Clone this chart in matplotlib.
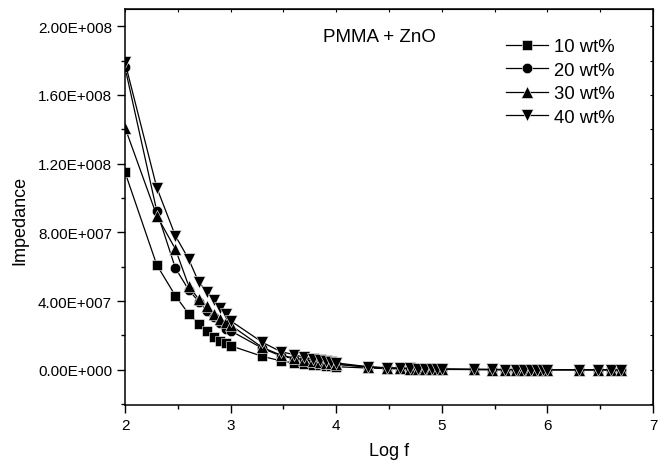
import numpy as np
import matplotlib
matplotlib.use("Agg")
import matplotlib.pyplot as plt
from matplotlib.ticker import MultipleLocator, FuncFormatter

plt.rcParams['font.family'] = ['Liberation Sans', 'DejaVu Sans']

# Frequencies (Hz); the x axis shows log10(f)
freq = [100, 200, 300, 400, 500, 600, 700, 800, 900,
        1000, 2000, 3000, 4000, 5000, 6000, 7000, 8000, 9000,
        10000, 20000, 30000, 40000, 50000, 60000, 70000, 80000, 90000,
        100000, 200000, 300000, 400000, 500000, 600000, 700000, 800000, 900000,
        1000000, 2000000, 3000000, 4000000, 5000000]

z10 = [1.15e8, 6.10e7, 4.31e7, 3.26e7, 2.68e7, 2.25e7, 1.92e7, 1.69e7, 1.56e7,
       1.40e7, 7.8e6, 5.2e6, 4.0e6, 3.3e6, 2.8e6, 2.5e6, 2.2e6, 2.0e6,
       1.8e6, 1.0e6, 7.0e5, 5.0e5, 4.0e5, 3.5e5, 3.0e5, 2.6e5, 2.3e5,
       2.0e5, 1.2e5, 9.0e4, 7.0e4, 6.0e4, 5.0e4, 4.5e4, 4.0e4, 3.5e4,
       3.0e4, 2.0e4, 1.5e4, 1.2e4, 1.0e4]
z20 = [1.76e8, 9.24e7, 5.92e7, 4.66e7, 3.96e7, 3.42e7, 3.05e7, 2.70e7, 2.37e7,
       2.27e7, 1.25e7, 8.0e6, 6.5e6, 5.5e6, 4.7e6, 4.2e6, 3.8e6, 3.5e6,
       3.2e6, 1.5e6, 1.0e6, 8.0e5, 6.5e5, 5.5e5, 4.8e5, 4.2e5, 3.8e5,
       3.4e5, 2.0e5, 1.5e5, 1.2e5, 1.0e5, 8.5e4, 7.5e4, 6.5e4, 6.0e4,
       5.5e4, 3.5e4, 2.5e4, 2.0e4, 1.7e4]
z30 = [1.41e8, 8.97e7, 7.03e7, 4.90e7, 4.10e7, 3.73e7, 3.24e7, 2.95e7, 2.76e7,
       2.60e7, 1.30e7, 8.5e6, 6.8e6, 5.8e6, 5.0e6, 4.5e6, 4.0e6, 3.7e6,
       3.4e6, 1.6e6, 1.1e6, 8.5e5, 7.0e5, 6.0e5, 5.2e5, 4.5e5, 4.0e5,
       3.6e5, 2.1e5, 1.6e5, 1.3e5, 1.1e5, 9.0e4, 8.0e4, 7.0e4, 6.5e4,
       6.0e4, 3.8e4, 2.7e4, 2.2e4, 1.8e4]
z40 = [1.79e8, 1.06e8, 7.80e7, 6.45e7, 5.09e7, 4.54e7, 4.06e7, 3.57e7, 3.24e7,
       2.85e7, 1.60e7, 1.05e7, 8.8e6, 7.2e6, 6.2e6, 5.5e6, 5.0e6, 4.5e6,
       4.0e6, 1.8e6, 1.2e6, 9.5e5, 7.8e5, 6.6e5, 5.7e5, 5.0e5, 4.4e5,
       4.0e5, 2.3e5, 1.7e5, 1.4e5, 1.2e5, 1.0e5, 8.8e4, 7.8e4, 7.0e4,
       6.5e4, 4.0e4, 3.0e4, 2.4e4, 2.0e4]

labels = ['10 wt%', '20 wt%', '30 wt%', '40 wt%']
markers = ['s', 'o', '^', 'v']
sizes = [6.5, 7.5, 8, 8]

logf = np.log10(freq)

fig = plt.figure(figsize=(6.58, 4.64), dpi=100)
ax = fig.add_axes([125/658, 1 - 406/464, (653-125)/658, (406-10)/464])

for z, lab, m, s in zip([z10, z20, z30, z40], labels, markers, sizes):
    ax.plot(logf, z, color='black', lw=0.9, marker=m, ms=s,
            markerfacecolor='black', markeredgecolor='white', markeredgewidth=0.4,
            label=lab)

ax.set_xlim(2, 7)
ax.set_ylim(-2.05e7, 2.1e8)
ax.xaxis.set_major_locator(MultipleLocator(1))
ax.xaxis.set_minor_locator(MultipleLocator(0.5))
ax.yaxis.set_major_locator(MultipleLocator(4e7))
ax.yaxis.set_minor_locator(MultipleLocator(2e7))

def yfmt(v, pos):
    if abs(v) < 1:
        return '0.00E+000'
    e = int(np.floor(np.log10(abs(v))))
    mant = v / 10**e
    return f'{mant:.2f}E+{e:03d}'

ax.yaxis.set_major_formatter(FuncFormatter(yfmt))
ax.xaxis.set_major_formatter(FuncFormatter(lambda v, p: f'{int(round(v))}'))

ax.tick_params(axis='both', which='major', direction='out', length=5.8, width=1,
               labelsize=11, pad=3.5)
ax.tick_params(axis='both', which='minor', direction='out', length=3, width=1)
for sp in ax.spines.values():
    sp.set_linewidth(1.1)

# Top and right ticks (small, inward)
axt = ax.secondary_xaxis('top')
axt.xaxis.set_major_locator(MultipleLocator(0.5))
axt.tick_params(direction='in', length=2, labeltop=False)
axt.set_xticklabels([])
axr = ax.secondary_yaxis('right')
axr.yaxis.set_major_locator(MultipleLocator(2e7))
axr.tick_params(direction='in', length=2, labelright=False)
axr.set_yticklabels([])

ax.set_xlabel('Log f', fontsize=13, labelpad=7)
ax.set_ylabel('Impedance', fontsize=13)
ax.yaxis.set_label_coords((28 - 125) / (653 - 125), (406 - 220) / (406 - 10))

ax.text(379/658, 1 - 38/464, 'PMMA + ZnO', transform=fig.transFigure,
        ha='center', va='center', fontsize=13.5)

leg = ax.legend(loc='upper left', bbox_to_anchor=(506/658, 1 - 39/464),
                bbox_transform=fig.transFigure, frameon=False, fontsize=13.3,
                handlelength=2.3, handletextpad=0.3, labelspacing=0.36,
                borderpad=0, borderaxespad=0, markerscale=1.0)

fig.savefig('out.png', dpi=100)
